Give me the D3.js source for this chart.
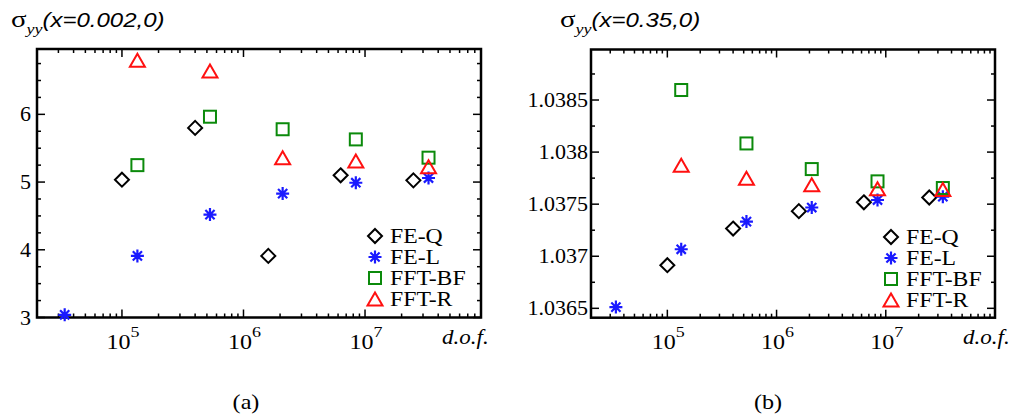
<!DOCTYPE html>
<html><head><meta charset="utf-8">
<script src="https://cdn.jsdelivr.net/npm/d3@7"></script>
<style>body{margin:0;background:#fff}svg{display:block}</style>
</head><body>
<svg id="chart" width="1016" height="417"></svg>
<script>
// ---- data ----
const seriesNames = ["FE-Q", "FE-L", "FFT-BF", "FFT-R"];
const dofQ   = [1.0e5, 4.0e5, 1.6e6, 6.3e6, 2.5e7];
const dofL   = [3.38e4, 1.34e5, 5.3e5, 2.1e6, 8.4e6, 3.33e7];
const dofFFT = [1.34e5, 5.3e5, 2.1e6, 8.4e6, 3.33e7];

// panel (a): sigma_yy(x=0.002,0)
const aFEQ   = [5.035, 5.80, 3.91, 5.10, 5.025];
const aFEL   = [3.04, 3.91, 4.52, 4.83, 4.99, 5.06];
const aFFTBF = [5.25, 5.965, 5.78, 5.63, 5.36];
const aFFTR  = [6.80, 6.64, 5.36, 5.31, 5.225];

// panel (b): sigma_yy(x=0.35,0)
const bFEQ   = [1.036914, 1.037266, 1.037433, 1.037518, 1.037564];
const bFEL   = [1.036512, 1.037067, 1.037333, 1.037468, 1.037540, 1.037572];
const bFFTBF = [1.038596, 1.038083, 1.037837, 1.037719, 1.037655];
const bFFTR  = [1.037873, 1.037750, 1.037686, 1.037648, 1.037641];

const xTickValues = [1e5, 1e6, 1e7];
const xTickExps   = ["5", "6", "7"];
const aYTicks  = [3, 4, 5, 6];
const aYLabels = ["3", "4", "5", "6"];
const bYTicks  = [1.0365, 1.037, 1.0375, 1.038, 1.0385];
const bYLabels = ["1.0365", "1.037", "1.0375", "1.038", "1.0385"];

// ---- drawing ----
const svg = d3.select("#chart");
const SERIF = "'Liberation Serif', 'Times New Roman', serif";
const SANS = "'Liberation Sans', Arial, sans-serif";
const colors = {"FE-Q": "#000000", "FE-L": "#1a1aff", "FFT-BF": "#0b8a0b", "FFT-R": "#ff1010"};

function txt(g, x, y, s, opts) {
  const t = g.append("text")
    .attr("transform", `translate(${x},${y}) scale(${opts.sx || 1.15},1)`)
    .style("font-family", opts.family || SERIF)
    .style("font-size", (opts.size || 21) + "px")
    .style("font-style", opts.italic ? "italic" : "normal")
    .attr("text-anchor", opts.anchor || "start")
    .attr("fill", "#000");
  if (s !== null) t.text(s);
  return t;
}

function marker(g, name, x, y) {
  const c = colors[name];
  const m = g.append("g").attr("transform", `translate(${x},${y})`)
    .attr("fill", "none").attr("stroke", c).attr("stroke-width", 2);
  if (name === "FE-Q") {
    m.append("path").attr("d", "M0,-7L7,0L0,7L-7,0Z");
  } else if (name === "FE-L") {
    const r = 6.5, d = r * Math.SQRT1_2;
    m.append("path").attr("d", `M0,${-r}V${r}M${-r},0H${r}M${-d},${-d}L${d},${d}M${-d},${d}L${d},${-d}`)
      .attr("stroke-width", 2.2);
  } else if (name === "FFT-BF") {
    m.append("rect").attr("x", -6).attr("y", -6).attr("width", 12).attr("height", 12);
  } else {
    m.append("path").attr("d", "M0,-6.5L7.5,6.5L-7.5,6.5Z").attr("stroke-linejoin", "miter");
  }
}

function panel(cfg) {
  const g = svg.append("g");
  const x = d3.scaleLog().domain(cfg.xDomain).range([cfg.left, cfg.right]);
  const y = d3.scaleLinear().domain(cfg.yDomain).range([cfg.bottom, cfg.top]);

  // ticks (inward, on all four sides)
  const tg = g.append("g").attr("stroke", "#000").attr("stroke-width", 1.5);
  const decades = d3.range(Math.floor(Math.log10(cfg.xDomain[0])), Math.ceil(Math.log10(cfg.xDomain[1])) + 1);
  decades.forEach(e => {
    for (let k = 1; k <= 9; k++) {
      const v = k * Math.pow(10, e);
      if (v < cfg.xDomain[0] * 0.999 || v > cfg.xDomain[1] * 1.001) continue;
      const len = k === 1 ? 8 : 4;
      const px = x(v);
      tg.append("line").attr("x1", px).attr("x2", px).attr("y1", cfg.bottom).attr("y2", cfg.bottom - len);
      tg.append("line").attr("x1", px).attr("x2", px).attr("y1", cfg.top).attr("y2", cfg.top + len);
    }
  });
  const minors = d3.range(cfg.yTicks[0] - 4 * cfg.yMinor, cfg.yDomain[1] + cfg.yMinor / 2, cfg.yMinor)
    .filter(v => v >= cfg.yDomain[0] - 1e-9 && v <= cfg.yDomain[1]);
  minors.forEach(v => {
    const major = cfg.yTicks.some(t => Math.abs(t - v) < cfg.yMinor / 10);
    const len = major ? 8 : 4;
    const py = y(v);
    tg.append("line").attr("x1", cfg.left).attr("x2", cfg.left + len).attr("y1", py).attr("y2", py);
    tg.append("line").attr("x1", cfg.right).attr("x2", cfg.right - len).attr("y1", py).attr("y2", py);
  });

  // frame
  g.append("rect").attr("x", cfg.left).attr("y", cfg.top)
    .attr("width", cfg.right - cfg.left).attr("height", cfg.bottom - cfg.top)
    .attr("fill", "none").attr("stroke", "#000").attr("stroke-width", 2.5);

  // y labels
  cfg.yTicks.forEach((v, i) => txt(g, cfg.yLabelX, y(v) + 7, cfg.yLabels[i], {anchor: "end", size: 20, sx: 1.1}));
  // x labels
  xTickValues.forEach((v, i) => {
    const t = txt(g, x(v) + 1, cfg.bottom + 31, null, {anchor: "middle", size: 20, sx: 1.2});
    t.append("tspan").text("10");
    t.append("tspan").style("font-size", "15px").attr("dy", -12).text(xTickExps[i]);
  });
  txt(g, cfg.dofX, cfg.bottom + 26, "d.o.f.", {italic: true, size: 20, sx: 1.15});

  // title
  const tt = txt(g, cfg.titleX, 27, null, {sx: 1.2});
  tt.append("tspan").style("font-size", "24px").text("σ");
  tt.append("tspan").style("font-size", "15px").style("font-style", "italic").attr("dy", 7).text("yy");
  tt.append("tspan").style("font-family", SANS).style("font-style", "italic")
    .style("font-size", "20px").attr("dy", -7).text(cfg.title);

  // data
  const series = [
    {name: "FE-Q", dof: dofQ, val: cfg.data[0]},
    {name: "FE-L", dof: dofL, val: cfg.data[1]},
    {name: "FFT-BF", dof: dofFFT, val: cfg.data[2]},
    {name: "FFT-R", dof: dofFFT, val: cfg.data[3]}
  ];
  series.forEach(s => s.val.forEach((v, i) => marker(g, s.name, x(s.dof[i]), y(v))));

  // legend
  seriesNames.forEach((n, i) => {
    const ly = cfg.legendY + i * 21;
    marker(g, n, cfg.legendX, ly);
    txt(g, cfg.legendX + 15, ly + 7, n, {size: 21, sx: 1.13});
  });

  // caption
  txt(g, cfg.captionX, 409, cfg.caption, {anchor: "middle", size: 21, sx: 1.15});
}

panel({
  left: 37, right: 481, top: 49, bottom: 317.5,
  xDomain: [2e4, 9e7], yDomain: [3, 6.965],
  yTicks: aYTicks, yLabels: aYLabels, yMinor: 0.25, yLabelX: 31,
  data: [aFEQ, aFEL, aFFTBF, aFFTR],
  title: "(x=0.002,0)", titleX: 11, dofX: 442, legendX: 375, legendY: 236,
  caption: "(a)", captionX: 246
});
panel({
  left: 591, right: 995, top: 49.5, bottom: 317.7,
  xDomain: [2e4, 1e8], yDomain: [1.03641, 1.038985],
  yTicks: bYTicks, yLabels: bYLabels, yMinor: 0.00025, yLabelX: 588,
  data: [bFEQ, bFEL, bFFTBF, bFFTR],
  title: "(x=0.35,0)", titleX: 560, dofX: 963, legendX: 891, legendY: 237,
  caption: "(b)", captionX: 768
});
</script>
</body></html>
